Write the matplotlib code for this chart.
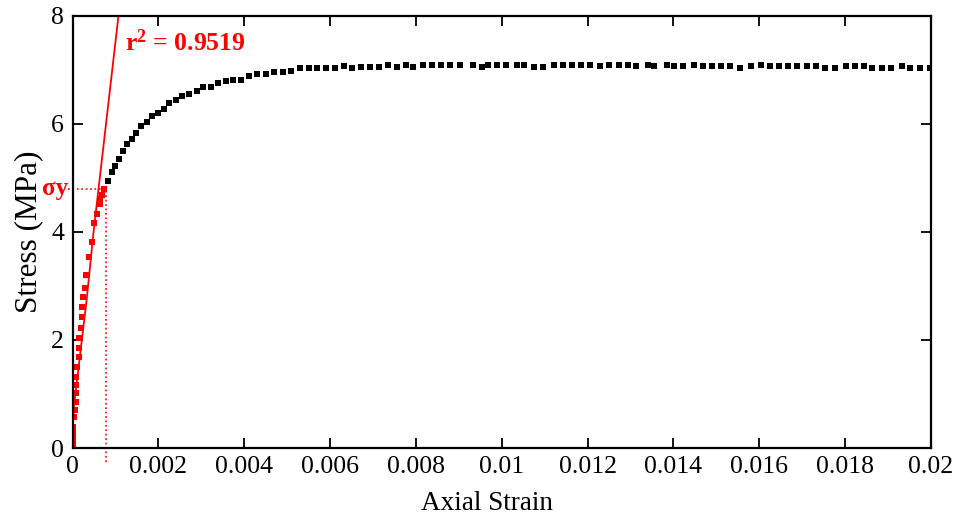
import numpy as np
import matplotlib
matplotlib.use("Agg")
import matplotlib.pyplot as plt

plt.rcParams['font.family'] = ['Liberation Serif', 'DejaVu Serif']
plt.rcParams['mathtext.fontset'] = 'custom'
plt.rcParams['mathtext.rm'] = 'Liberation Serif'
plt.rcParams['mathtext.bf'] = 'Liberation Serif:bold'

# elastic part (used for the linear fit)
elastic_strain = [0.0, 0.0, 0.0, 0.0, 0.0, 0.0, 0.00001, 0.00002, 0.00004, 0.00005,
                  0.00007, 0.00008, 0.00008, 0.00009, 0.00011, 0.00014, 0.00015, 0.00016,
                  0.00019, 0.00022, 0.00022, 0.00025, 0.00029, 0.00031, 0.00039, 0.00046,
                  0.00051, 0.00056, 0.00064, 0.00064, 0.00068, 0.00074]
elastic_stress = [0.0, 0.05, 0.1, 0.2, 0.3, 0.35, 0.28, 0.39, 0.58, 0.70,
                  0.85, 1.02, 1.17, 1.32, 1.50, 1.69, 1.86, 2.04,
                  2.23, 2.43, 2.62, 2.80, 2.97, 3.21, 3.54, 3.82,
                  4.17, 4.34, 4.51, 4.62, 4.69, 4.79]

# plastic part
plastic_strain = [0.00082, 0.00091, 0.00099, 0.00108, 0.00117, 0.00126, 0.00138, 0.00147,
                  0.00160, 0.00173, 0.00186, 0.00198, 0.00212, 0.00225, 0.00241, 0.00255,
                  0.00272, 0.00290, 0.00305, 0.00322, 0.00340, 0.00357, 0.00373, 0.00392,
                  0.00412, 0.00429, 0.00451, 0.00470, 0.00490, 0.00509, 0.00530, 0.00552,
                  0.00569, 0.00591, 0.00612, 0.00633, 0.00651, 0.00672, 0.00693, 0.00714,
                  0.00735, 0.00756, 0.00777, 0.00794, 0.00816, 0.00837, 0.00859, 0.00880,
                  0.00902, 0.00933, 0.00954, 0.00967, 0.00989, 0.01010, 0.01035, 0.01052,
                  0.01074, 0.01096, 0.01121, 0.01143, 0.01164, 0.01185, 0.01206, 0.01230,
                  0.01251, 0.01272, 0.01293, 0.01313, 0.01340, 0.01354, 0.01385, 0.01402,
                  0.01422, 0.01449, 0.01469, 0.01490, 0.01511, 0.01531, 0.01556, 0.01581,
                  0.01604, 0.01624, 0.01645, 0.01666, 0.01688, 0.01711, 0.01733, 0.01754,
                  0.01777, 0.01801, 0.01822, 0.01843, 0.01863, 0.01886, 0.01907, 0.01933,
                  0.01952, 0.01974, 0.01997]
plastic_stress = [4.94, 5.11, 5.22, 5.36, 5.50, 5.63, 5.73, 5.84,
                  5.97, 6.04, 6.14, 6.21, 6.28, 6.38, 6.44, 6.52,
                  6.55, 6.61, 6.69, 6.68, 6.75, 6.80, 6.81, 6.81,
                  6.89, 6.93, 6.93, 6.96, 6.96, 6.99, 7.03, 7.03,
                  7.03, 7.03, 7.03, 7.07, 7.03, 7.06, 7.06, 7.06,
                  7.10, 7.06, 7.10, 7.06, 7.10, 7.10, 7.10, 7.10,
                  7.10, 7.10, 7.06, 7.10, 7.10, 7.10, 7.10, 7.10,
                  7.06, 7.06, 7.10, 7.10, 7.10, 7.10, 7.10, 7.07,
                  7.10, 7.10, 7.10, 7.07, 7.10, 7.07, 7.10, 7.07,
                  7.07, 7.10, 7.07, 7.07, 7.07, 7.07, 7.03, 7.07,
                  7.10, 7.07, 7.07, 7.07, 7.07, 7.07, 7.07, 7.03,
                  7.03, 7.07, 7.07, 7.07, 7.03, 7.03, 7.03, 7.07,
                  7.03, 7.03, 7.03]

# linear fit line
fit_strain = [0.0, 0.00003, 0.00033, 0.00049, 0.00107]
fit_stress = [0.3, 0.76, 2.75, 4.0, 8.0]
r2 = 0.9519

yield_strain = 0.00078
yield_stress = 4.8

fig = plt.figure(figsize=(9.58, 5.19), dpi=100)
ax = fig.add_axes([0.0757, 0.1368, 0.8961, 0.8324])

ax.plot(plastic_strain, plastic_stress, 's', color='black', markersize=4.6, markeredgewidth=0)
ax.plot(elastic_strain, elastic_stress, 's', color='red', markersize=4.6, markeredgewidth=0)
ax.plot(fit_strain, fit_stress, '-', color='red', linewidth=1.3)

# yield point guides
ax.plot([yield_strain, yield_strain], [-0.25, yield_stress], ':', color='red',
        linewidth=1.2, clip_on=False)
ax.plot([-0.0001, yield_strain], [yield_stress, yield_stress], ':', color='red',
        linewidth=1.2, clip_on=False)
ax.text(-0.0001, yield_stress, 'σy', color='red', fontsize=18, fontweight='bold',
        ha='right', va='center')

ax.text(0.00122, 7.5, r'$\mathbf{r^2}$' + f' = {r2}', color='red', fontsize=18.5,
        fontweight='bold', ha='left', va='center')

ax.set_xlim(0, 0.02)
ax.set_ylim(0, 8)
ax.set_xticks(np.arange(0, 0.0201, 0.002))
ax.set_xticklabels(['0', '0.002', '0.004', '0.006', '0.008', '0.01', '0.012',
                    '0.014', '0.016', '0.018', '0.02'])
ax.set_yticks([0, 2, 4, 6, 8])
ax.tick_params(direction='in', length=7, width=1.3, labelsize=18.5, top=True, right=True, pad=6)
for s in ax.spines.values():
    s.set_linewidth(1.6)

ax.set_xlabel('Axial Strain', fontsize=19.5, labelpad=9, x=0.483)
ax.set_ylabel('Stress (MPa)', fontsize=22.5, labelpad=6)

fig.savefig('out.png', dpi=100)
